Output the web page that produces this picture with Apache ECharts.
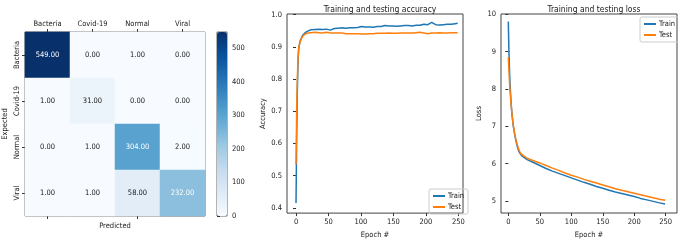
<!DOCTYPE html>
<html>
<head>
<meta charset="utf-8">
<script src="https://cdn.jsdelivr.net/npm/echarts@6/dist/echarts.min.js"></script>
<style>
  html, body { margin: 0; padding: 0; background: #fff; }
  #main { width: 678px; height: 244px; }
</style>
</head>
<body>
<div id="main"></div>
<script>
var classes = ['Bacteria', 'Covid-19', 'Normal', 'Viral'];
// rows = expected, columns = predicted
var cmRows = [
    [549, 0, 1, 0],
    [1, 31, 0, 0],
    [0, 1, 304, 2],
    [1, 1, 58, 232]
];
var cbTicks = [0, 100, 200, 300, 400, 500];

var accEpochs = [0, 1, 2, 3, 4, 5, 6, 7, 8, 10, 12, 14, 16, 18, 20,
    23, 26, 29, 32, 35, 38, 41, 44, 47, 50,
    53, 56, 59, 62, 65, 68, 71, 74, 77, 80,
    83, 86, 89, 92, 95, 98, 101, 104, 107, 110,
    113, 116, 119, 122, 125, 128, 131, 134, 137, 140,
    143, 146, 149, 152, 155, 158, 161, 164, 167, 170,
    173, 176, 179, 182, 185, 188, 191, 194, 197, 200,
    203, 206, 209, 212, 215, 218, 221, 224, 227, 230,
    233, 236, 239, 242, 245, 249];
var accTrain = [0.415, 0.62, 0.76, 0.85, 0.89, 0.905, 0.915, 0.922, 0.928, 0.935, 0.940, 0.944, 0.947, 0.949, 0.951,
    0.953, 0.951, 0.954, 0.952, 0.955, 0.953, 0.954, 0.951, 0.955, 0.953,
    0.952, 0.956, 0.957, 0.955, 0.958, 0.957, 0.959, 0.957, 0.958, 0.960,
    0.959, 0.961, 0.959, 0.962, 0.960, 0.961, 0.963, 0.961, 0.962, 0.964,
    0.962, 0.963, 0.961, 0.964, 0.963, 0.965, 0.963, 0.964, 0.966, 0.964,
    0.965, 0.963, 0.965, 0.966, 0.964, 0.966, 0.965, 0.967, 0.966, 0.968,
    0.966, 0.967, 0.965, 0.968, 0.967, 0.969, 0.967, 0.968, 0.970, 0.968,
    0.969, 0.972, 0.976, 0.971, 0.969, 0.970, 0.968, 0.970, 0.969, 0.971,
    0.970, 0.972, 0.970, 0.971, 0.972, 0.973];
var accTest = [0.535, 0.70, 0.80, 0.86, 0.895, 0.905, 0.913, 0.919, 0.925, 0.932, 0.937, 0.940, 0.942, 0.943, 0.943,
    0.944, 0.943, 0.945, 0.944, 0.944, 0.945, 0.943, 0.944, 0.945, 0.944,
    0.943, 0.944, 0.943, 0.942, 0.943, 0.942, 0.943, 0.942, 0.941, 0.942,
    0.941, 0.942, 0.941, 0.942, 0.941, 0.940, 0.940, 0.941, 0.940, 0.941,
    0.941, 0.942, 0.941, 0.942, 0.942, 0.941, 0.942, 0.943, 0.942, 0.942,
    0.943, 0.942, 0.942, 0.943, 0.942, 0.943, 0.943, 0.942, 0.943, 0.943,
    0.943, 0.944, 0.943, 0.943, 0.944, 0.944, 0.945, 0.944, 0.943, 0.942,
    0.941, 0.942, 0.943, 0.942, 0.943, 0.943, 0.944, 0.943, 0.943, 0.944,
    0.943, 0.944, 0.944, 0.943, 0.944, 0.944];

var lossEpochs = [0, 1, 2, 3, 4, 5, 6, 8, 10, 12, 14, 16, 18, 20, 22, 25, 30, 40, 50, 60,
    70, 80, 90, 100, 110, 120, 130, 140, 150, 160, 170, 180, 190, 200, 210, 220, 230, 240, 249];
var lossTrain = [9.81, 9.0, 8.45, 8.05, 7.75, 7.5, 7.3, 7.0, 6.8, 6.62, 6.48, 6.37, 6.29, 6.24, 6.2, 6.16, 6.11, 6.03, 5.95, 5.87,
    5.8, 5.74, 5.68, 5.62, 5.56, 5.5, 5.45, 5.39, 5.34, 5.29, 5.24, 5.2, 5.16, 5.12, 5.07, 5.03, 4.99, 4.95, 4.92];
var lossTest = [8.85, 8.5, 8.15, 7.9, 7.68, 7.48, 7.3, 7.02, 6.82, 6.65, 6.52, 6.41, 6.33, 6.27, 6.23, 6.2, 6.15, 6.08, 6.02, 5.95,
    5.88, 5.82, 5.75, 5.69, 5.64, 5.58, 5.53, 5.48, 5.43, 5.38, 5.33, 5.29, 5.25, 5.21, 5.17, 5.13, 5.09, 5.05, 5.02];

var epochTicks = [0, 50, 100, 150, 200, 250];
var accTicks = [0.4, 0.5, 0.6, 0.7, 0.8, 0.9, 1.0];
var lossTicks = [5, 6, 7, 8, 9, 10];

var FONT = '"DejaVu Sans Condensed", "DejaVu Sans", sans-serif';
var blues = ['#f7fbff', '#deebf7', '#c6dbef', '#9ecae1', '#6baed6', '#4292c6', '#2171b5', '#08519c', '#08306b'];
var cmMax = 549;

function pairs(xs, ys) {
    var out = [];
    for (var i = 0; i < xs.length; i++) out.push([xs[i], ys[i]]);
    return out;
}

var cmData = [];
cmRows.forEach(function (row, r) {
    row.forEach(function (v, c) {
        cmData.push({
            value: [c, r, v],
            label: { color: v > 150 ? '#ffffff' : '#1a1a1a' }
        });
    });
});

var chart = echarts.init(document.getElementById('main'));

var tickStyle = { show: true, inside: false, length: 3, lineStyle: { color: '#333' } };
var labelStyle = { fontSize: 7.5, color: '#1a1a1a', fontFamily: FONT };
var nameStyle = { fontSize: 7.5, color: '#1a1a1a', fontFamily: FONT };

var option = {
    backgroundColor: '#fff',
    animation: false,
    textStyle: { fontFamily: FONT },
    title: [
        { text: 'Training and testing accuracy', left: 375, top: 0, textAlign: 'center',
          textStyle: { fontSize: 8.5, fontWeight: 'normal', color: '#1a1a1a', fontFamily: FONT } },
        { text: 'Training and testing loss', left: 589, top: 0, textAlign: 'center',
          textStyle: { fontSize: 8.5, fontWeight: 'normal', color: '#1a1a1a', fontFamily: FONT } }
    ],
    legend: [
        {
            data: ['Train', 'Test'], left: 429, top: 189, orient: 'vertical',
            padding: [3, 4], itemGap: 3, itemWidth: 12, itemHeight: 2, icon: 'rect',
            borderColor: '#ccc', borderWidth: 1, borderRadius: 2,
            textStyle: { fontSize: 7.5, color: '#1a1a1a', fontFamily: FONT, padding: [0, 0, 0, -2] },
            selectedMode: false
        },
        {
            data: ['Train ', 'Test '], left: 640, top: 17, orient: 'vertical',
            padding: [3, 4], itemGap: 3, itemWidth: 12, itemHeight: 2, icon: 'rect',
            borderColor: '#ccc', borderWidth: 1, borderRadius: 2,
            textStyle: { fontSize: 7.5, color: '#1a1a1a', fontFamily: FONT, padding: [0, 0, 0, -2] },
            selectedMode: false
        }
    ],
    visualMap: {
        type: 'continuous', min: 0, max: cmMax, seriesIndex: 0,
        left: 217, top: 32, itemWidth: 10, itemHeight: 184, padding: 0,
        calculable: false, text: null, showLabel: false,
        inRange: { color: blues }
    },
    grid: [
        { left: 23, top: 32, width: 182, height: 184, show: true, borderColor: '#666', borderWidth: 1, backgroundColor: 'transparent' },
        { left: 287, top: 14, width: 176, height: 205, show: true, borderColor: '#444', borderWidth: 1 },
        { left: 501, top: 14, width: 176, height: 204, show: true, borderColor: '#444', borderWidth: 1 },
        { left: 217, top: 32, width: 10, height: 184, show: true, borderColor: '#666', borderWidth: 1 }
    ],
    xAxis: [
        { gridIndex: 0, type: 'category', data: classes, position: 'top',
          axisLine: { show: false }, axisTick: Object.assign({ alignWithLabel: true }, tickStyle),
          axisLabel: Object.assign({ margin: 4 }, labelStyle), splitLine: { show: false } },
        { gridIndex: 0, type: 'category', data: classes, position: 'bottom',
          axisLine: { show: false }, axisTick: Object.assign({ alignWithLabel: true }, tickStyle),
          axisLabel: { show: false }, name: 'Predicted', nameLocation: 'middle', nameGap: 6,
          nameTextStyle: nameStyle },
        { gridIndex: 1, type: 'value', min: -13.9, max: 257.2,
          axisLine: { show: false }, axisTick: Object.assign({ customValues: epochTicks }, tickStyle),
          axisLabel: Object.assign({ customValues: epochTicks, margin: 5 }, labelStyle),
          splitLine: { show: false },
          name: 'Epoch #', nameLocation: 'middle', nameGap: 17, nameTextStyle: nameStyle },
        { gridIndex: 2, type: 'value', min: -11.6, max: 267.9,
          axisLine: { show: false }, axisTick: Object.assign({ customValues: epochTicks }, tickStyle),
          axisLabel: Object.assign({ customValues: epochTicks, margin: 5 }, labelStyle),
          splitLine: { show: false },
          name: 'Epoch #', nameLocation: 'middle', nameGap: 18, nameTextStyle: nameStyle },
        { gridIndex: 3, type: 'value', min: 0, max: 1, show: false }
    ],
    yAxis: [
        { gridIndex: 0, type: 'category', data: classes, inverse: true,
          axisLine: { show: false }, axisTick: Object.assign({ alignWithLabel: true }, tickStyle),
          axisLabel: Object.assign({ rotate: 90, margin: 4 }, labelStyle),
          name: 'Expected', nameLocation: 'middle', nameGap: 16, nameRotate: 90, nameTextStyle: nameStyle },
        { gridIndex: 1, type: 'value', min: 0.384, max: 1.002,
          axisLine: { show: false }, axisTick: Object.assign({ customValues: accTicks }, tickStyle),
          axisLabel: Object.assign({ customValues: accTicks, margin: 5,
              formatter: function (v) { return v.toFixed(1); } }, labelStyle),
          splitLine: { show: false },
          name: 'Accuracy', nameLocation: 'middle', nameGap: 15, nameRotate: 90, nameTextStyle: nameStyle },
        { gridIndex: 2, type: 'value', min: 4.679, max: 10.008,
          axisLine: { show: false }, axisTick: Object.assign({ customValues: lossTicks }, tickStyle),
          axisLabel: Object.assign({ customValues: lossTicks, margin: 5 }, labelStyle),
          splitLine: { show: false },
          name: 'Loss', nameLocation: 'middle', nameGap: 13, nameRotate: 90, nameTextStyle: nameStyle },
        { gridIndex: 3, type: 'value', min: 0, max: cmMax, position: 'right',
          axisLine: { show: false }, axisTick: Object.assign({ customValues: cbTicks }, tickStyle),
          axisLabel: Object.assign({ customValues: cbTicks, margin: 5 }, labelStyle),
          splitLine: { show: false } }
    ],
    series: [
        {
            type: 'heatmap', xAxisIndex: 0, yAxisIndex: 0, data: cmData,
            label: { show: true, fontSize: 7.5, fontFamily: FONT,
                     formatter: function (p) { return p.value[2].toFixed(2); } },
            emphasis: { disabled: true }
        },
        { name: 'Train', type: 'line', xAxisIndex: 2, yAxisIndex: 1, data: pairs(accEpochs, accTrain),
          showSymbol: false, lineStyle: { width: 1.5, color: '#1f77b4' }, itemStyle: { color: '#1f77b4' } },
        { name: 'Test', type: 'line', xAxisIndex: 2, yAxisIndex: 1, data: pairs(accEpochs, accTest),
          showSymbol: false, lineStyle: { width: 1.5, color: '#ff7f0e' }, itemStyle: { color: '#ff7f0e' } },
        { name: 'Train ', type: 'line', xAxisIndex: 3, yAxisIndex: 2, data: pairs(lossEpochs, lossTrain),
          showSymbol: false, lineStyle: { width: 1.5, color: '#1f77b4' }, itemStyle: { color: '#1f77b4' } },
        { name: 'Test ', type: 'line', xAxisIndex: 3, yAxisIndex: 2, data: pairs(lossEpochs, lossTest),
          showSymbol: false, lineStyle: { width: 1.5, color: '#ff7f0e' }, itemStyle: { color: '#ff7f0e' } },
        { type: 'line', xAxisIndex: 4, yAxisIndex: 3, data: [], silent: true }
    ]
};

chart.setOption(option);
</script>
</body>
</html>
